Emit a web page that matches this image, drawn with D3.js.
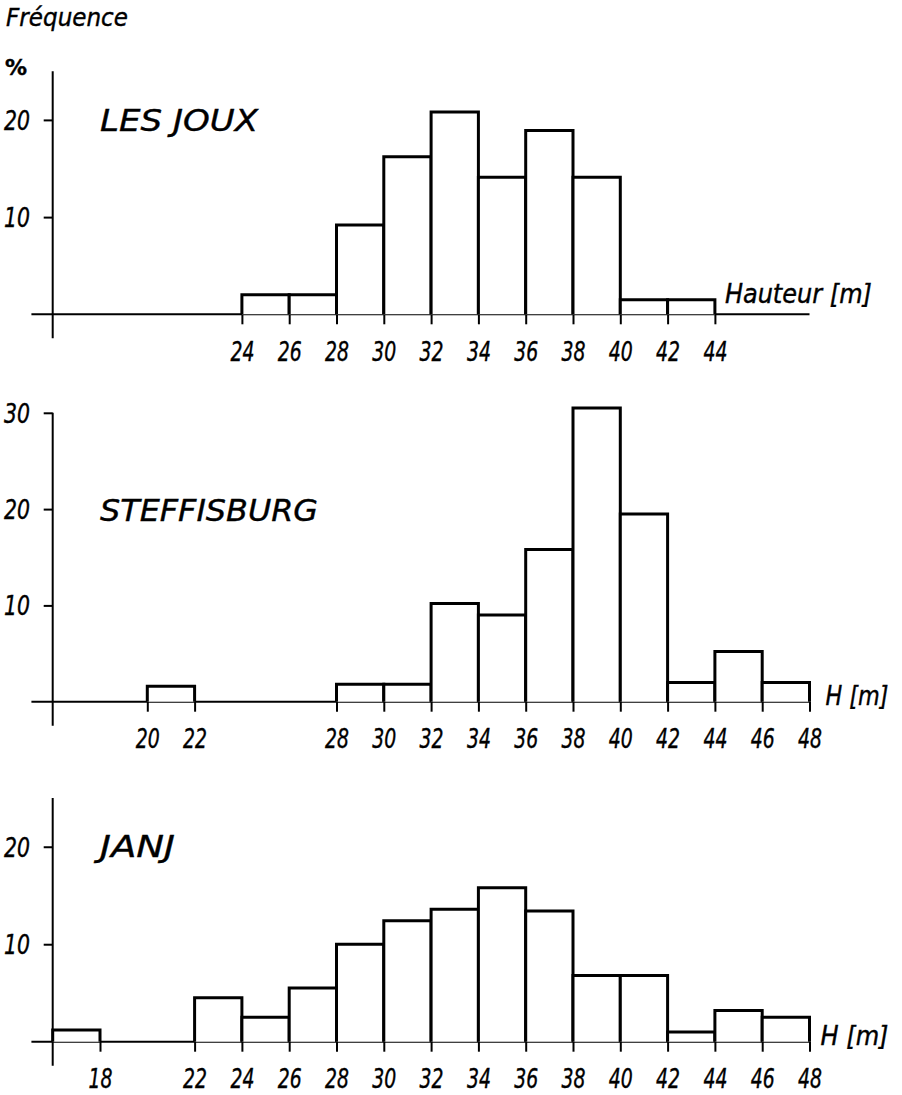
<!DOCTYPE html>
<html>
<head>
<meta charset="utf-8">
<script src="https://cdn.jsdelivr.net/npm/d3@7"></script>
<style>
  html, body { margin: 0; padding: 0; background: #fff; }
  svg text { font-family: "DejaVu Sans", sans-serif; font-style: italic; fill: #000; stroke: #000; stroke-width: 0.4px; }
</style>
</head>
<body>
<div id="viz"></div>
<script>
// ── DATA ─────────────────────────────────────────────────────────────────────
// bin start (m), width 2 m ; frequency in %
const lesJouxBins = [24, 26, 28, 30, 32, 34, 36, 38, 40, 42];
const lesJouxFreq = [2.0, 2.0, 9.2, 16.2, 20.8, 14.1, 18.9, 14.1, 1.5, 1.5];
const lesJouxTicks = [24, 26, 28, 30, 32, 34, 36, 38, 40, 42, 44];

const steffBins = [20, 28, 30, 32, 34, 36, 38, 40, 42, 44, 46];
const steffFreq = [1.6, 1.8, 1.8, 10.2, 9.0, 15.8, 30.5, 19.5, 2.0, 5.2, 2.0];
const steffTicks = [20, 22, 28, 30, 32, 34, 36, 38, 40, 42, 44, 46, 48];

const janjBins = [16, 22, 24, 26, 28, 30, 32, 34, 36, 38, 40, 42, 44, 46];
const janjFreq = [1.2, 4.5, 2.5, 5.5, 10.0, 12.4, 13.6, 15.8, 13.4, 6.8, 6.8, 1.0, 3.2, 2.5];
const janjTicks = [18, 22, 24, 26, 28, 30, 32, 34, 36, 38, 40, 42, 44, 46, 48];

const binWidth = 2;

// ── SETTINGS ────────────────────────────────────────────────────────────────
const width = 902, height = 1095;
const svg = d3.select("#viz").append("svg")
    .attr("viewBox", [0, 0, width, height])
    .attr("width", width)
    .attr("height", height);

const x = d3.scaleLinear().domain([16, 48]).range([52.7, 809.5]);

const panels = [
  { name: "LES  JOUX", bins: lesJouxBins, freq: lesJouxFreq, ticks: lesJouxTicks,
    yTicks: [10, 20], yMax: 25, base: 314.3, top: 71.3, titleY: 130.5, titleLen: 158,
    unit: "Hauteur [m]", unitX: x(44) + 10, unitY: 303, unitLen: 147 },
  { name: "STEFFISBURG", bins: steffBins, freq: steffFreq, ticks: steffTicks,
    yTicks: [10, 20, 30], yMax: 30, base: 701.7, top: 412.8, titleY: 521, titleLen: 218,
    unit: "H [m]", unitX: x(48) + 16, unitY: 705, unitLen: 63 },
  { name: "JANJ", bins: janjBins, freq: janjFreq, ticks: janjTicks,
    yTicks: [10, 20], yMax: 25, base: 1041.7, top: 798, titleY: 857, titleLen: 75,
    unit: "H [m]", unitX: x(48) + 11, unitY: 1045, unitLen: 68 }
];

// ── HEADER ──────────────────────────────────────────────────────────────────
svg.append("text").attr("x", 6).attr("y", 26)
    .attr("font-size", 25).attr("textLength", 122).attr("lengthAdjust", "spacingAndGlyphs")
    .text("Fréquence");
svg.append("text").attr("x", 5).attr("y", 75)
    .attr("font-size", 22).attr("font-weight", "bold").style("font-style", "normal")
    .text("%");

// ── DRAW ────────────────────────────────────────────────────────────────────
panels.forEach(p => {
  const y = d3.scaleLinear().domain([0, p.yMax]).range([p.base, p.top]);
  const g = svg.append("g");

  // baseline
  g.append("line")
      .attr("x1", x(15.1)).attr("x2", x(48))
      .attr("y1", y(0)).attr("y2", y(0))
      .attr("stroke", "#000").attr("stroke-width", 2);

  // vertical axis
  g.append("line")
      .attr("x1", x(16)).attr("x2", x(16))
      .attr("y1", y(p.yMax)).attr("y2", y(0) + 24)
      .attr("stroke", "#000").attr("stroke-width", 2);

  // y ticks
  const yAxis = g.append("g")
      .attr("transform", `translate(${x(16)},0)`)
      .call(d3.axisLeft(y).tickValues(p.yTicks).tickSize(9).tickSizeOuter(0).tickFormat(d3.format("d")));
  yAxis.select(".domain").remove();
  yAxis.selectAll("line").attr("stroke", "#000").attr("stroke-width", 2);
  yAxis.selectAll("text")
      .attr("x", 4 - x(16)).attr("dy", "0.36em")
      .attr("text-anchor", "start")
      .attr("font-size", 26).attr("font-family", null)
      .attr("textLength", d => 13 * String(d).length).attr("lengthAdjust", "spacingAndGlyphs");

  // x ticks
  const xAxis = g.append("g")
      .attr("transform", `translate(0,${y(0)})`)
      .call(d3.axisBottom(x).tickValues(p.ticks).tickSize(10).tickSizeOuter(0).tickFormat(d3.format("d")));
  xAxis.select(".domain").remove();
  xAxis.selectAll("line").attr("stroke", "#000").attr("stroke-width", 2);
  xAxis.selectAll("text")
      .attr("y", 46.5).attr("dy", null)
      .attr("font-size", 26).attr("font-family", null)
      .attr("textLength", 24).attr("lengthAdjust", "spacingAndGlyphs");

  // bars (open at the bottom, sitting on the baseline)
  g.selectAll("path.bar")
    .data(p.bins.map((b, i) => ({ start: b, value: p.freq[i] })))
    .join("path")
      .attr("class", "bar")
      .attr("d", d => `M${x(d.start)},${y(0)}V${y(d.value)}H${x(d.start + binWidth)}V${y(0)}`)
      .attr("fill", "#fff")
      .attr("stroke", "#000")
      .attr("stroke-width", 3)
      .attr("stroke-linejoin", "miter");

  // title
  g.append("text").attr("x", 100).attr("y", p.titleY)
      .attr("font-size", 30)
      .attr("textLength", p.titleLen).attr("lengthAdjust", "spacingAndGlyphs")
      .text(p.name);

  // unit
  g.append("text").attr("x", p.unitX).attr("y", p.unitY)
      .attr("font-size", 26)
      .attr("textLength", p.unitLen).attr("lengthAdjust", "spacingAndGlyphs")
      .text(p.unit);
});
</script>
</body>
</html>
